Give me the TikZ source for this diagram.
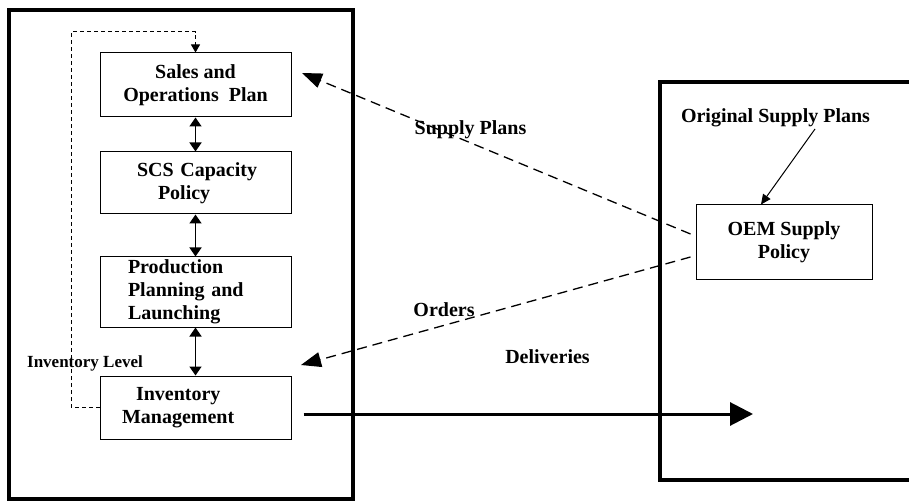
\documentclass[tikz,border=0pt]{standalone}
\usepackage{fontspec}
\setmainfont{Liberation Serif}
\usetikzlibrary{arrows.meta}
\tikzset{
  block/.style = {draw, line width=1pt, minimum width=191pt,
                  inner sep=0pt, font=\bfseries\fontsize{20}{23}\selectfont},
  caption/.style = {inner sep=0pt, font=\bfseries\fontsize{20}{23}\selectfont},
  frame/.style = {line width=4pt},
  twoway/.style = {line width=1.5pt, {Triangle[length=9pt,width=12pt]}-{Triangle[length=9pt,width=12pt]}},
  feedback/.style = {line width=1pt, dash pattern=on 4pt off 3pt, -{Triangle[length=8pt,width=9pt]}},
  flow/.style = {line width=1.3pt, dash pattern=on 10pt off 6pt, -{Triangle[length=20pt,width=15pt]}}
}

\begin{document}
\begin{tikzpicture}[x=1pt,y=-1pt]
	\useasboundingbox (0,0) rectangle (909,502);

	% Frames
	\draw[frame] (9,10) rectangle (353,499);
	\draw[frame] (909,82) -- (660,82) -- (660,480) -- (909,480);

	% Left side
	\node[block, minimum height=64pt, align=center] (sop) at (195.5,85)
		{Sales and\\Operations\ \ Plan};
	\node[block, minimum height=62pt, text width=135pt, align=left] (scs) at (195.5,183)
		{\hspace*{9pt}SCS Capacity\\\hspace*{30pt}Policy};
	\node[block, minimum height=70pt, text width=135pt, align=left] (ppl) at (195.5,292)
		{Production\\Planning and\\Launching};
	\node[block, minimum height=63pt, text width=147pt, align=left] (inv) at (195.5,407.5)
		{\hspace*{14pt}Inventory\\Management};

	\draw[twoway] (sop.south) -- (scs.north);
	\draw[twoway] (scs.south) -- (ppl.north);
	\draw[twoway] (ppl.south) -- (inv.north);

	% Inventory level loop
	\draw[feedback] (inv.west) -- (71,407.5) -- (71,32) -- (195.5,32) -- (sop.north);
	\node[caption, font=\bfseries\fontsize{17}{20}\selectfont] (level) at (85,363) {Inventory Level};

	% Right side
	\node[block, minimum width=176pt, minimum height=75pt, align=center] (oem) at (784,242.5)
		{OEM Supply\\Policy};
	\node[caption] (orig) at (775.5,118) {Original Supply Plans};
	\coordinate (origtail) at (815,129);
	\draw[line width=1pt, -{Triangle[length=10pt,width=9pt]}] (origtail) -- ([xshift=-23pt]oem.north);

	% Flows between the two
	\coordinate (plantip) at (302,73);
	\coordinate (ordertip) at (301,365);
	\coordinate (delivtip) at (753,414);
	\draw[flow] ([shift={(-5pt,8.5pt)}]oem.west) -- (plantip);
	\draw[flow] ([shift={(-5pt,-14.5pt)}]oem.west) -- (ordertip);
	\draw[line width=3pt, -{Triangle[length=23pt,width=23pt]}] ([shift={(12pt,-6.5pt)}]inv.east) -- (delivtip);

	\node[caption] (plans) at (470.5,130) {Supply Plans};
	\node[caption] (orders) at (444,310) {Orders};
	\node[caption] (deliv) at (547.5,357) {Deliveries};
\end{tikzpicture}
\end{document}
